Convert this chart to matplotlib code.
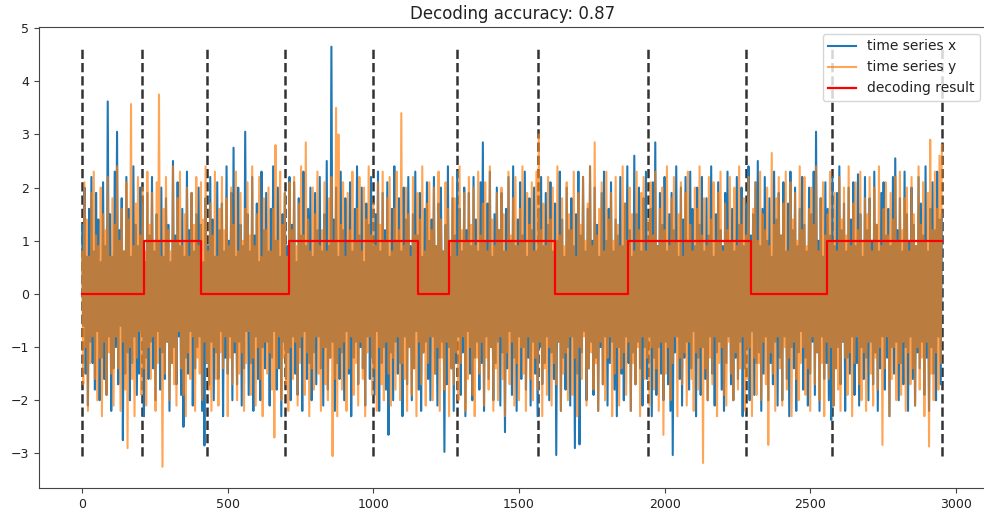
import numpy as np
import matplotlib
matplotlib.use("Agg")
import matplotlib.pyplot as plt

plt.rcParams["path.simplify"] = False

step = 4  # time units between stored samples

series_x = [
1.3, -0.6, 2.0, -1.5, 0.7, -2.1, 1.6, -0.9, 2.2, -1.3, 0.8, -1.8, 1.9, -0.7, 1.4, -2.0, 0.6, -1.2, 2.1, -1.6,
0.9, -1.9, 3.62, -0.8, 1.5, -2.2, 0.7, -1.4, 2.3, -1.0, 3.05, -1.7, 1.2, -0.6, 1.8, -2.75, 0.8, -1.5, 2.2, -1.1,
1.6, -2.0, 0.7, -1.3, 2.4, -0.8, 1.3, -1.9, 0.9, -1.5, 2.0, -0.7, 1.7, -2.3, 0.6, -1.2, 1.9, -1.6, 1.1, -0.9,
2.2, -1.4, 0.8, -2.0, 1.5, -0.7, 1.0, -1.8, 2.0, -1.1, 0.7, -1.6, 1.8, -0.9, 1.3, -2.2, 0.6, -1.3, 2.5, -1.0,
1.1, -1.7, 2.1, -0.8, 0.9, -1.9, 1.6, -2.5, 0.7, -1.2, 2.3, -1.5, 1.2, -0.7, 1.9, -2.1, 0.8, -1.4, 1.5, -1.0,
2.0, -0.8, 1.3, -2.2, 0.6, -2.85, 1.8, -1.3, 0.9, -1.7, 2.2, -0.9, 1.4, -2.0, 0.7, -1.1, 2.1, -1.6, 1.2, -0.7,
1.7, -2.3, 0.8, -1.2, 2.4, -1.5, 1.0, -0.8, 1.9, -2.0, 2.75, -1.1, 0.7, -1.7, 2.0, -0.9, 1.3, -2.1, 0.9, -1.4,
3.05, -0.7, 1.5, -1.9, 0.8, -1.3, 2.2, -2.2, 1.1, -0.8, 1.7, -1.6, 0.6, -2.0, 2.3, -1.0, 1.2, -1.4, 1.9, -0.9,
0.8, -2.1, 1.6, -1.2, 2.4, -0.7, 1.0, -1.8, 2.0, -1.4, 0.7, -2.3, 1.5, -0.9, 1.9, -1.6, 0.9, -1.1, 2.2, -2.0,
1.3, -0.8, 2.1, -1.5, 0.6, -1.9, 1.8, -1.0, 1.1, -2.2, 2.3, -0.7, 0.9, -1.6, 1.6, -1.3, 2.0, -2.0, 0.7, -1.1,
1.9, -1.7, 1.2, -0.8, 2.2, -1.4, 0.8, -2.1, 1.5, -1.0, 2.5, -1.8, 0.9, -1.2, 4.65, -0.9, 1.4, -2.2, 2.0, -1.3,
0.7, -1.6, 2.3, -1.1, 1.2, -2.0, 1.8, -0.7, 1.0, -1.5, 2.1, -2.3, 0.8, -1.2, 1.6, -0.9, 2.4, -1.7, 1.1, -1.0,
2.0, -1.4, 0.6, -2.1, 1.7, -0.8, 1.3, -1.6, 2.2, -1.2, 0.9, -1.9, 1.5, -0.7, 2.3, -2.2, 0.8, -1.3, 1.9, -1.0,
1.2, -1.8, 2.1, -2.65, 0.7, -1.1, 1.6, -2.0, 2.4, -0.9, 1.0, -1.5, 1.8, -1.3, 0.8, -2.3, 2.0, -0.8, 1.4, -1.7,
2.2, -1.0, 0.9, -2.0, 1.5, -1.4, 2.3, -0.7, 1.1, -1.8, 1.9, -2.2, 0.7, -1.1, 1.6, -0.9, 2.1, -1.6, 1.0, -2.0,
1.4, -0.8, 2.2, -1.5, 0.9, -2.1, 1.7, -1.2, 2.0, -0.9, 0.8, -2.97, 1.3, -1.7, 2.4, -1.0, 0.7, -1.4, 1.8, -2.2,
1.1, -1.3, 2.3, -0.8, 1.6, -1.9, 0.8, -1.1, 2.0, -2.3, 1.2, -0.7, 1.9, -1.5, 0.9, -2.0, 2.2, -1.2, 1.4, -0.9,
0.8, -1.8, 2.1, -1.3, 2.85, -2.2, 1.0, -0.8, 1.7, -1.6, 2.3, -1.0, 0.7, -2.0, 1.5, -1.3, 2.0, -0.9, 1.2, -2.1,
1.9, -1.1, 0.8, -2.6, 1.6, -1.4, 2.2, -0.7, 1.0, -1.9, 2.4, -1.2, 0.9, -2.2, 1.4, -0.8, 2.1, -1.6, 1.1, -1.0,
2.3, -1.8, 0.7, -1.2, 1.8, -2.1, 1.2, -0.9, 2.0, -1.5, 0.8, -2.3, 1.6, -1.0, 2.2, -1.7, 0.9, -1.3, 1.9, -0.8,
1.3, -2.0, 2.1, -1.1, 0.8, -1.6, 1.7, -3.03, 1.0, -0.9, 2.3, -2.2, 1.4, -1.2, 0.7, -1.8, 2.0, -1.0, 1.2, -2.1,
1.8, -0.8, 0.9, -2.9, 1.5, -1.5, 2.3, -2.83, 1.1, -1.1, 2.2, -0.7, 0.8, -2.0, 1.6, -1.4, 2.4, -0.9, 1.0, -1.9,
2.0, -1.2, 1.3, -2.2, 0.7, -1.0, 1.9, -1.7, 2.3, -0.8, 1.0, -2.1, 1.6, -1.3, 2.1, -0.9, 0.8, -1.8, 1.4, -2.3,
1.1, -1.0, 2.2, -1.5, 0.9, -2.0, 1.7, -0.8, 2.4, -1.3, 1.2, -2.2, 0.7, -1.1, 2.6, -1.7, 1.5, -0.9, 2.0, -1.4,
0.8, -2.1, 1.8, -1.0, 2.3, -1.6, 1.0, -0.8, 1.6, -2.3, 2.1, -1.2, 2.85, -1.9, 0.9, -1.0, 1.9, -1.5, 1.3, -2.0,
2.2, -0.9, 0.8, -1.7, 1.5, -2.2, 1.9, -3.03, 1.2, -1.1, 2.4, -0.8, 0.7, -1.6, 2.0, -2.1, 1.4, -1.2, 2.2, -0.9,
1.0, -1.8, 2.3, -1.4, 1.6, -0.7, 0.9, -2.3, 2.0, -1.2, 1.3, -1.9, 2.2, -1.0, 0.8, -1.6, 1.8, -2.0, 1.1, -0.8,
2.4, -1.5, 0.7, -2.1, 1.5, -1.1, 2.1, -0.9, 1.2, -1.8, 0.9, -2.2, 1.9, -1.3, 2.3, -0.8, 1.0, -1.7, 1.6, -2.0,
0.8, -1.2, 2.2, -1.6, 1.3, -0.9, 2.0, -2.3, 0.9, -1.4, 1.7, -1.0, 2.4, -2.0, 1.1, -0.7, 1.5, -1.9, 2.1, -1.3,
2.5, -1.1, 0.9, -2.2, 1.6, -1.5, 2.2, -0.8, 1.0, -2.0, 1.8, -1.3, 0.7, -1.7, 2.3, -0.9, 1.4, -2.1, 1.9, -1.2,
1.1, -2.0, 2.1, -0.8, 0.8, -1.6, 1.7, -2.3, 2.3, -1.0, 1.2, -1.4, 2.0, -2.2, 0.9, -1.1, 1.6, -0.7, 2.2, -1.8,
1.3, -1.2, 0.8, -2.1, 2.0, -1.5, 1.5, -0.9, 2.3, -1.9, 3.05, -1.1, 1.0, -2.2, 1.8, -0.8, 0.7, -1.6, 2.1, -1.3,
1.6, -2.0, 1.1, -2.37, 2.2, -2.1, 0.9, -1.4, 1.9, -1.0, 2.4, -1.7, 1.2, -0.9, 1.7, -2.2, 0.8, -1.2, 2.0, -1.5,
1.4, -0.8, 2.1, -1.9, 0.9, -1.3, 2.25, -2.1, 1.5, -1.0, 0.7, -1.6, 2.2, -1.2, 1.2, -2.0, 1.8, -0.9, 1.0, -1.7,
2.3, -1.1, 1.3, -2.2, 0.8, -1.4, 1.9, -0.8, 2.1, -1.8, 1.1, -1.2, 1.6, -2.3, 0.9, -1.0, 2.2, -1.5, 2.55, -0.9,
1.2, -2.0, 1.8, -1.3, 0.8, -1.7, 2.3, -1.0, 1.5, -2.2, 1.0, -0.8, 2.0, -1.6, 1.3, -2.1, 0.9, -1.1, 2.2, -1.4,
1.7, -0.9, 1.1, -1.9, 2.4, -1.2, 0.8, -2.2, 1.6, -1.0, 2.1, -1.5, 1.2, -2.0, 2.3, -0.8, 1.4, -1.7, 1.5,
]

series_y = [
0.8, -1.7, 2.1, -1.0, 1.4, -2.2, 0.7, -1.3, 1.9, -0.8, 2.3, -1.6, 1.1, -2.0, 0.9, -1.2, 2.0, -2.3, 1.5, -0.9,
1.2, -1.9, 2.2, -1.1, 0.7, -1.5, 1.8, -2.1, 1.3, -0.8, 2.4, -1.4, 1.0, -2.2, 1.6, -0.9, 0.8, -1.8, 2.1, -2.9,
1.4, -1.0, 3.57, -1.6, 0.9, -2.3, 1.7, -1.2, 2.2, -0.7, 1.1, -1.9, 2.0, -1.4, 0.8, -2.1, 2.3, -1.0, 1.3, -1.6,
1.9, -0.8, 1.0, -2.2, 2.1, -1.3, 3.75, -1.0, 0.7, -3.25, 1.6, -1.5, 2.2, -0.9, 1.2, -2.0, 0.8, -1.3, 2.4, -1.7,
1.0, -2.1, 1.8, -0.7, 2.3, -1.4, 0.9, -1.9, 1.5, -2.3, 2.0, -1.1, 0.7, -1.6, 1.9, -0.8, 1.3, -2.2, 2.2, -1.2,
0.9, -1.5, 2.1, -2.0, 1.4, -0.9, 2.4, -1.3, 0.8, -1.8, 1.7, -2.2, 1.1, -1.0, 2.3, -1.6, 0.7, -2.1, 1.6, -1.1,
2.2, -1.4, 1.2, -0.8, 1.8, -2.3, 0.9, -1.2, 2.0, -1.7, 1.3, -0.9, 2.3, -2.0, 0.8, -1.5, 1.9, -1.1, 1.0, -2.2,
1.6, -1.3, 2.1, -0.7, 1.1, -1.9, 2.4, -1.2, 0.9, -2.1, 1.5, -1.0, 2.2, -1.6, 0.7, -2.3, 1.8, -0.9, 1.2, -1.5,
2.0, -1.1, 0.8, -1.8, 1.6, -2.7, 2.8, -1.4, 1.0, -0.8, 2.3, -2.0, 1.3, -1.2, 1.9, -1.7, 0.7, -2.2, 2.1, -1.0,
1.2, -1.6, 2.2, -0.9, 0.9, -2.1, 1.7, -1.3, 2.4, -0.8, 1.1, -1.9, 2.85, -1.1, 1.4, -2.3, 0.8, -1.4, 2.0, -1.8,
1.5, -0.8, 2.3, -1.5, 0.9, -2.2, 1.2, -1.0, 2.1, -1.7, 0.8, -2.0, 1.8, -1.2, 2.2, -3.05, 1.0, -1.6, 3.5, -2.3,
3.0, -1.0, 1.3, -1.8, 2.1, -0.9, 0.7, -2.2, 1.9, -1.4, 1.2, -0.8, 2.3, -1.9, 1.0, -1.3, 1.6, -2.1, 2.2, -0.9,
0.8, -1.6, 2.0, -2.3, 1.4, -1.1, 2.4, -0.8, 1.1, -1.9, 1.7, -1.4, 0.9, -2.2, 2.1, -1.0, 1.3, -1.7, 2.3, -2.0,
1.0, -0.9, 1.8, -1.5, 2.2, -2.1, 0.8, -1.2, 1.6, -1.8, 2.3, -0.8, 1.2, -2.0, 3.4, -1.3, 0.9, -1.6, 2.0, -2.2,
1.5, -1.0, 0.7, -1.9, 2.2, -1.4, 1.1, -2.3, 1.9, -0.9, 1.4, -1.7, 2.4, -1.1, 0.8, -2.1, 1.7, -1.3, 2.1, -0.8,
1.2, -2.0, 2.0, -1.5, 0.9, -1.0, 2.3, -2.2, 1.4, -1.2, 0.8, -1.8, 2.1, -0.9, 1.6, -2.3, 1.0, -1.4, 2.2, -1.7,
1.8, -1.1, 0.7, -2.0, 2.4, -1.3, 1.2, -0.8, 1.9, -2.2, 1.0, -1.6, 2.2, -1.0, 1.3, -1.9, 2.0, -2.3, 0.9, -1.2,
2.3, -1.5, 1.1, -0.9, 1.7, -2.1, 2.1, -1.2, 0.8, -1.8, 2.4, -1.0, 1.4, -2.2, 0.9, -1.4, 1.9, -2.0, 1.2, -0.8,
2.0, -1.6, 1.5, -2.3, 0.8, -1.1, 2.3, -1.7, 1.1, -0.9, 1.8, -2.1, 2.2, -1.3, 0.9, -2.0, 1.6, -1.0, 2.4, -1.5,
1.0, -2.2, 1.9, -0.8, 1.3, -1.6, 2.1, -2.0, 0.8, -1.2, 2.3, -1.8, 3.0, -0.9, 1.2, -2.3, 1.7, -1.4, 0.9, -1.9,
2.2, -1.0, 1.4, -2.1, 2.0, -1.3, 0.8, -1.7, 2.4, -0.9, 1.1, -2.2, 1.8, -1.5, 0.9, -1.1, 2.1, -2.0, 1.5, -0.8,
1.2, -1.9, 2.3, -1.2, 0.7, -2.3, 1.9, -1.0, 1.3, -1.6, 2.2, -0.8, 1.0, -2.1, 1.7, -1.4, 2.4, -1.1, 0.9, -1.8,
2.85, -1.3, 1.1, -2.2, 1.6, -0.9, 2.1, -1.7, 0.8, -2.0, 2.3, -1.2, 1.4, -0.8, 1.9, -2.3, 1.0, -1.5, 2.2, -1.0,
1.3, -2.1, 0.9, -1.4, 2.4, -1.1, 1.7, -1.9, 1.0, -0.9, 2.0, -2.2, 1.5, -1.3, 0.8, -1.7, 2.3, -1.0, 1.2, -2.3,
1.9, -0.8, 2.2, -1.6, 0.8, -1.2, 1.4, -2.1, 2.1, -1.0, 1.1, -1.8, 2.3, -1.4, 0.9, -2.2, 1.6, -0.9, 2.0, -2.65,
1.2, -1.5, 2.4, -1.0, 0.9, -2.0, 1.8, -1.3, 2.2, -0.8, 1.0, -2.3, 1.5, -1.2, 2.1, -1.7, 0.7, -1.1, 1.9, -2.1,
2.3, -0.9, 1.3, -1.6, 0.8, -2.2, 2.0, -1.1, 1.6, -1.8, 2.4, -1.0, 1.1, -3.18, 1.8, -1.4, 0.9, -2.0, 2.2, -1.2,
1.4, -1.7, 2.1, -0.8, 1.0, -2.3, 1.9, -1.3, 2.3, -1.0, 0.8, -1.9, 1.7, -2.1, 1.2, -0.9, 2.2, -1.5, 1.0, -2.0,
2.0, -1.1, 0.9, -1.8, 2.4, -1.4, 1.3, -0.8, 1.8, -2.2, 1.1, -1.6, 2.2, -1.0, 0.8, -2.3, 1.6, -1.2, 2.1, -1.9,
1.0, -1.3, 2.3, -2.0, 1.5, -0.9, 1.2, -1.7, 2.0, -2.84, 0.9, -1.1, 2.65, -1.5, 1.3, -2.2, 1.8, -0.8, 2.2, -1.4,
1.1, -2.1, 1.7, -1.0, 2.3, -1.8, 0.8, -1.2, 2.1, -2.3, 1.4, -0.9, 1.9, -1.6, 1.0, -2.0, 2.4, -1.3, 1.2, -1.0,
2.2, -1.9, 0.9, -1.4, 1.6, -2.2, 2.0, -0.8, 1.3, -1.7, 2.4, -1.1, 0.8, -2.0, 1.8, -1.3, 2.1, -2.3, 1.1, -0.9,
1.5, -1.6, 2.3, -1.0, 1.0, -2.1, 1.9, -1.4, 0.8, -1.8, 2.2, -2.2, 1.4, -0.9, 2.0, -1.2, 1.1, -1.9, 2.4, -1.1,
0.9, -2.3, 1.7, -1.3, 2.1, -0.8, 1.2, -1.7, 2.3, -2.0, 1.0, -1.1, 1.8, -2.2, 1.5, -0.9, 2.2, -1.5, 0.8, -2.1,
2.0, -1.2, 1.3, -1.8, 2.4, -1.0, 0.9, -2.84, 1.6, -1.4, 2.1, -0.8, 1.1, -2.3, 1.9, -1.6, 1.4, -1.0, 2.2, -2.0,
1.0, -1.3, 2.3, -1.9, 1.2, -0.9, 1.8, -2.2, 2.0, -1.1, 0.8, -1.7, 2.2, -1.4, 1.5, -2.1, 0.9, -1.0, 2.4, -1.8,
1.3, -1.2, 2.1, -2.3, 1.0, -0.9, 1.9, -2.87, 2.9, -1.5, 1.2, -2.0, 2.3, -1.1, 1.6, -1.8, 2.6, -1.3, 2.8,
]

# true change points (dashed lines)
change_points = [0, 205, 428, 695, 1000, 1288, 1565, 1942, 2280, 2575, 2952]

# decoding result: state changes at these times
decode_times = [0, 212, 408, 709, 1154, 1260, 1623, 1873, 2295, 2558, 2952]
decode_states = [0, 1, 0, 1, 0, 1, 0, 1, 0, 1, 1]

title = "Decoding accuracy: 0.87"

tx = np.arange(len(series_x)) * step
ty = np.arange(len(series_y)) * step

fig = plt.figure(figsize=(9.84, 5.14), dpi=100)
ax = fig.add_axes([39/984, 26/514, 948/984, 461/514])

ymax_v = max(series_x)
ax.vlines(change_points, -3.05, ymax_v, colors="#333333", linestyles="--", linewidth=1.8, zorder=1)
ax.plot(tx, series_x, color="#1f77b4", lw=1.5, label="time series x", zorder=2)
ax.plot(ty, series_y, color="#ff7f0e", lw=1.5, alpha=0.7, label="time series y", zorder=3)
ax.step(decode_times, decode_states, where="post", color="red", lw=1.6, label="decoding result", zorder=4)

ax.set_xlim(-148, 3107)
ax.set_ylim(-3.65, 5.02)
ax.set_xticks([0, 500, 1000, 1500, 2000, 2500, 3000])
ax.tick_params(labelsize=9, colors="#444444", labelcolor="#222222")
for sp in ax.spines.values():
    sp.set_color("#444444")
ax.set_title(title, fontsize=12, color="#222222")
leg = ax.legend(loc="upper right", fontsize=10)
for txt in leg.get_texts():
    txt.set_color("#222222")

fig.savefig("out.png", dpi=100)
